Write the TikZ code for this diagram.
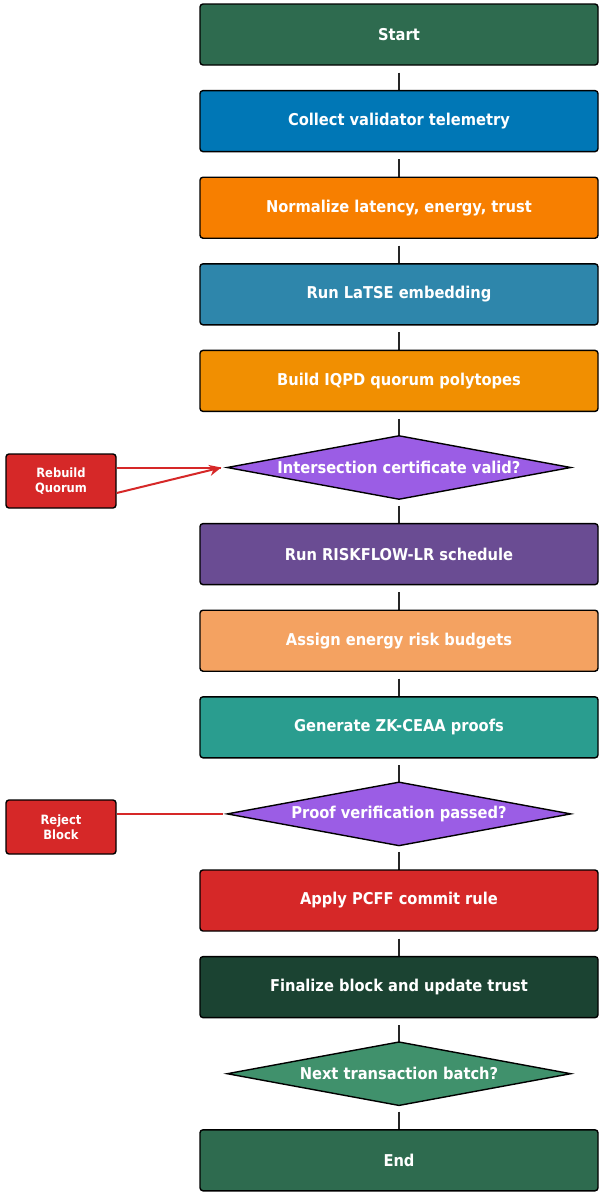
\documentclass[tikz,border=0pt]{standalone}
\usepackage{fontspec}
\setmainfont{DejaVu Sans Condensed}
\usetikzlibrary{shapes.geometric,arrows.meta}
\definecolor{cStart}{HTML}{2E6B4F}
\definecolor{cCollect}{HTML}{0077B6}
\definecolor{cNorm}{HTML}{F77F00}
\definecolor{cRun}{HTML}{2E86AB}
\definecolor{cBuild}{HTML}{F18F01}
\definecolor{cPurple}{HTML}{9B5DE5}
\definecolor{cRisk}{HTML}{6A4C93}
\definecolor{cAssign}{HTML}{F4A261}
\definecolor{cGen}{HTML}{2A9D8F}
\definecolor{cRed}{HTML}{D62828}
\definecolor{cFinal}{HTML}{1B4332}
\definecolor{cNext}{HTML}{40916C}
\tikzset{
  stepbox/.style={draw=black, line width=1.4pt, rounded corners=3pt, minimum width=398pt, minimum height=61pt, inner sep=0pt, text=white, font=\fontsize{16.3}{18}\bfseries\selectfont},
  decision/.style={draw=black, line width=1.4pt, diamond, minimum width=344pt, minimum height=64pt, inner sep=0pt, text=white, font=\fontsize{16.3}{18}\bfseries\selectfont, shape aspect=5.375},
  sidebox/.style={draw=black, line width=1.4pt, rounded corners=3pt, fill=cRed, minimum width=110pt, minimum height=54pt, inner sep=0pt, text=white, align=center, font=\fontsize{12.8}{15}\bfseries\selectfont},
  flow/.style={draw=black!85, line width=1.6pt},
  redline/.style={draw=cRed, line width=2pt},
}
\begin{document}
\begin{tikzpicture}[x=1pt,y=-1pt]
\useasboundingbox[fill=white] (0,0) rectangle (608,1200);
\def\dy{86.6}
% connectors first (hidden under boxes)
\foreach \k in {0,...,12}{
  \pgfmathsetmacro{\ya}{34.5+\k*\dy+38}
  \pgfmathsetmacro{\yb}{34.5+(\k+1)*\dy}
  \draw[flow] (399,\ya) -- (399,\yb);
}
\node[stepbox, fill=cStart]   (start) at (399,34.5) {Start};
\node[stepbox, fill=cCollect] (collect) at (399,121.1) {Collect validator telemetry};
\node[stepbox, fill=cNorm]    (norm) at (399,207.7) {Normalize latency, energy, trust};
\node[stepbox, fill=cRun]     (latse) at (399,294.3) {Run LaTSE embedding};
\node[stepbox, fill=cBuild]   (build) at (399,380.9) {Build IQPD quorum polytopes};
\node[decision, fill=cPurple] (inter) at (399,467.5) {Intersection certificate valid?};
\node[stepbox, fill=cRisk]    (risk) at (399,554.1) {Run RISKFLOW-LR schedule};
\node[stepbox, fill=cAssign]  (assign) at (399,640.7) {Assign energy risk budgets};
\node[stepbox, fill=cGen]     (gen) at (399,727.3) {Generate ZK-CEAA proofs};
\node[decision, fill=cPurple] (proof) at (399,813.9) {Proof verification passed?};
\node[stepbox, fill=cRed]     (apply) at (399,900.5) {Apply PCFF commit rule};
\node[stepbox, fill=cFinal]   (final) at (399,987.1) {Finalize block and update trust};
\node[decision, fill=cNext]   (next) at (399,1073.7) {Next transaction batch?};
\node[stepbox, fill=cStart]   (end) at (399,1160.3) {End};

\node[sidebox] (rebuild) at (61,481) {Rebuild\\Quorum};
\node[sidebox] (reject) at (61,827) {Reject\\Block};

\coordinate (itip) at ([xshift=-5pt]inter.west);
\coordinate (ptip) at ([xshift=-3pt]proof.west);
\draw[redline] (rebuild.east |- itip) -- (itip);
\draw[redline, -{Stealth[length=12pt,width=11pt]}] ([yshift=-12pt]rebuild.east) -- (itip);
\draw[redline] (reject.east |- ptip) -- (ptip);
\end{tikzpicture}
\end{document}
